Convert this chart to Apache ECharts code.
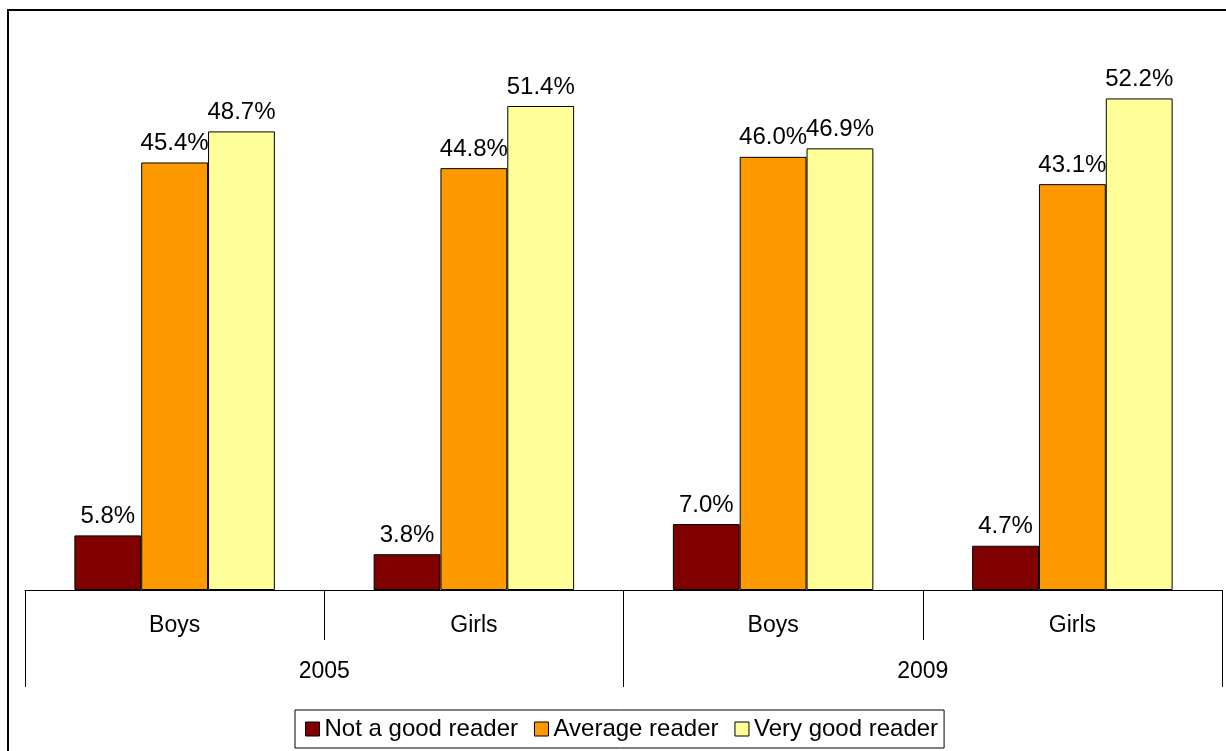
<!DOCTYPE html>
<html>
<head>
<meta charset="utf-8">
<script src="https://cdn.jsdelivr.net/npm/echarts@6/dist/echarts.min.js"></script>
<style>
    html, body { margin: 0; padding: 0; background: #fff; }
    #chart { width: 1226px; height: 751px; }
</style>
</head>
<body>
<div id="chart"></div>
<script>
// 数据
var genders = ['Boys', 'Girls', 'Boys', 'Girls'];
var years = ['2005', '2009'];
var seriesNames = ['Not a good reader', 'Average reader', 'Very good reader'];
var notGood = [5.8, 3.8, 7.0, 4.7];
var average = [45.4, 44.8, 46.0, 43.1];
var veryGood = [48.7, 51.4, 46.9, 52.2];
var colors = ['#800000', '#FF9900', '#FFFF99'];

var myChart = echarts.init(document.getElementById('chart'));

function makeSeries(name, data, color) {
    return {
        name: name,
        type: 'bar',
        data: data,
        barGap: '0%',
        barCategoryGap: '33%',
        itemStyle: {
            color: color,
            borderColor: '#000',
            borderWidth: 1
        },
        label: {
            show: true,
            position: 'top',
            distance: 7,
            color: '#000',
            fontFamily: 'Liberation Sans',
            fontSize: 24,
            formatter: function (p) {
                return p.value.toFixed(1) + '%';
            }
        },
        emphasis: { disabled: true }
    };
}

var option = {
    animation: false,
    graphic: [
        {
            // 外框
            type: 'rect',
            shape: { x: 8, y: 10, width: 1240, height: 760 },
            style: { fill: 'none', stroke: '#000', lineWidth: 2 },
            silent: true
        }
    ],
    legend: {
        data: seriesNames,
        left: 295,
        top: 710,
        padding: [7, 6, 7, 10],
        itemWidth: 14,
        itemHeight: 14,
        itemGap: 16,
        borderColor: '#000',
        borderWidth: 1,
        icon: 'rect',
        itemStyle: { borderColor: '#000', borderWidth: 1 },
        textStyle: {
            color: '#000',
            fontFamily: 'Liberation Sans',
            fontSize: 24
        }
    },
    grid: {
        left: 25,
        right: 4,
        top: 25,
        bottom: 161
    },
    xAxis: [
        {
            type: 'category',
            data: genders,
            position: 'bottom',
            axisLine: { show: true, lineStyle: { color: '#000', width: 1 } },
            axisTick: { show: true, alignWithLabel: false, interval: 0, length: 50, lineStyle: { color: '#000' } },
            axisLabel: {
                margin: 24,
                color: '#000',
                fontFamily: 'Liberation Sans',
                fontSize: 23
            }
        },
        {
            type: 'category',
            data: years,
            position: 'bottom',
            axisLine: { show: false },
            axisTick: { show: true, alignWithLabel: false, interval: 0, length: 97, lineStyle: { color: '#000' } },
            axisLabel: {
                margin: 70,
                color: '#000',
                fontFamily: 'Liberation Sans',
                fontSize: 23
            }
        }
    ],
    yAxis: {
        type: 'value',
        min: 0,
        max: 60,
        show: false,
        splitLine: { show: false }
    },
    series: [
        makeSeries(seriesNames[0], notGood, colors[0]),
        makeSeries(seriesNames[1], average, colors[1]),
        makeSeries(seriesNames[2], veryGood, colors[2])
    ]
};

myChart.setOption(option);
</script>
</body>
</html>
